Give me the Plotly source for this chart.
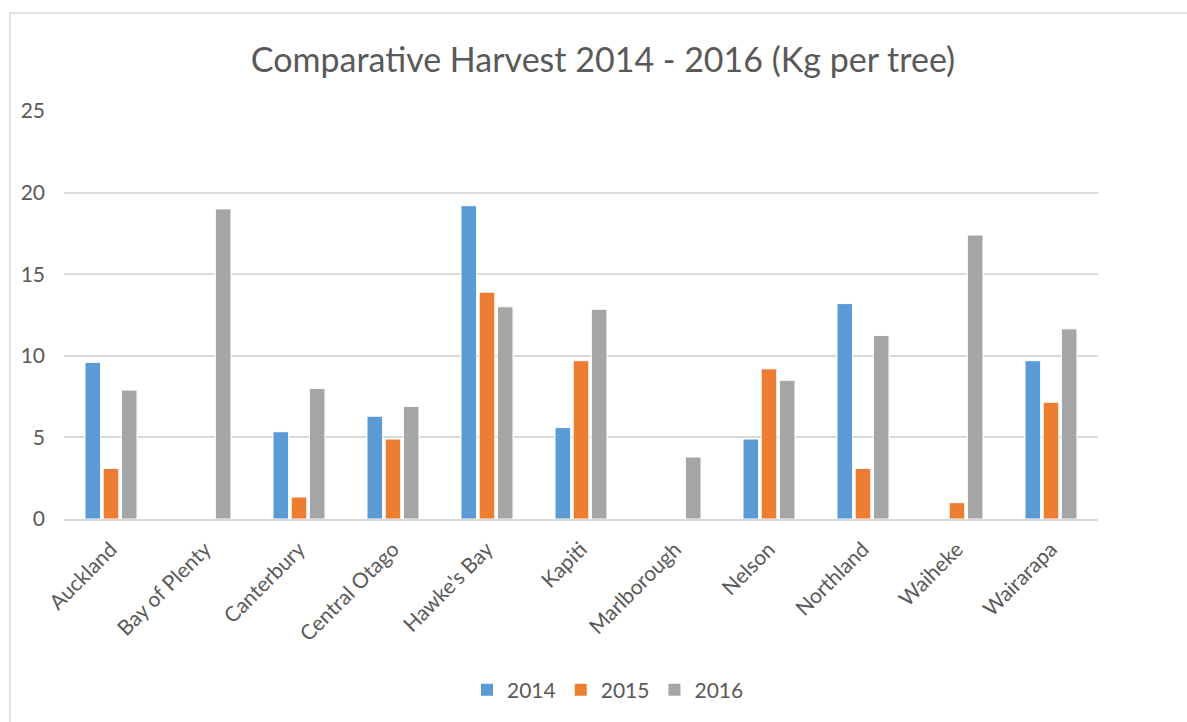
import plotly.graph_objects as go

# Regions and harvest yields (kg per tree)
regions = ["Auckland", "Bay of Plenty", "Canterbury", "Central Otago", "Hawke's Bay",
           "Kapiti", "Marlborough", "Nelson", "Northland", "Waiheke", "Wairarapa"]
harvest_2014 = [9.6, None, 5.35, 6.3, 19.2, 5.6, None, 4.9, 13.2, None, 9.7]
harvest_2015 = [3.1, None, 1.35, 4.9, 13.9, 9.7, None, 9.2, 3.1, 1.0, 7.15]
harvest_2016 = [7.9, 19.0, 8.0, 6.9, 13.0, 12.85, 3.8, 8.5, 11.25, 17.4, 11.65]
series_names = ["2014", "2015", "2016"]
series_colors = ["#5B9BD5", "#ED7D31", "#A5A5A5"]

FONT = "Lato, 'Open Sans', sans-serif"
TEXT = "#595959"

W, H = 1187, 722
L, R, T, B = 64, 89, 111, 203

fig = go.Figure()
for name, vals, col in zip(series_names, [harvest_2014, harvest_2015, harvest_2016], series_colors):
    fig.add_trace(go.Bar(
        x=regions, y=vals, name=name, showlegend=False,
        marker=dict(color=col, line=dict(color="white", width=1)),
    ))
    # square legend swatch
    fig.add_trace(go.Scatter(
        x=[None], y=[None], mode="markers", name=name,
        marker=dict(symbol="square", size=12, color=col),
    ))

pw = W - L - R
ph = H - T - B

def px_x(px):
    return (px - L) / pw

def px_y(py):
    return (H - B - py) / ph

fig.update_layout(
    width=W, height=H,
    margin=dict(l=L, r=R, t=T, b=B, autoexpand=False),
    paper_bgcolor="white", plot_bgcolor="white",
    barmode="group", bargap=0.42, bargroupgap=0.14,
    font=dict(family=FONT, color=TEXT, size=21),
    title=dict(text="Comparative Harvest 2014 - 2016 (Kg per tree)",
               x=px_x(603), xanchor="center", xref="paper",
               y=1 - 60 / H, yanchor="middle",
               font=dict(size=34, color=TEXT, family=FONT)),
    xaxis=dict(showgrid=False, showline=True, linecolor="#D9D9D9", linewidth=1.5,
               ticks="", tickangle=-45, ticklabelstandoff=8,
               tickfont=dict(size=21, color=TEXT)),
    yaxis=dict(range=[0, 25], dtick=5, showgrid=True, gridcolor="#D9D9D9", gridwidth=1.5,
               zeroline=False, showline=False, ticks="", ticklabelstandoff=18,
               tickfont=dict(size=21, color=TEXT)),
    legend=dict(orientation="h", x=px_x(608), xanchor="center", xref="paper",
                y=px_y(690), yanchor="middle",
                font=dict(size=21, color=TEXT), itemwidth=30,
                traceorder="normal", bgcolor="rgba(0,0,0,0)"),
    showlegend=True,
)

# Chart frame (top and left edges visible)
fig.add_shape(type="rect", xref="paper", yref="paper",
              x0=px_x(10), x1=px_x(1200), y0=px_y(740), y1=px_y(13),
              line=dict(color="#D9D9D9", width=1.5), fillcolor="rgba(0,0,0,0)",
              layer="below")

fig.write_html("out.html")
